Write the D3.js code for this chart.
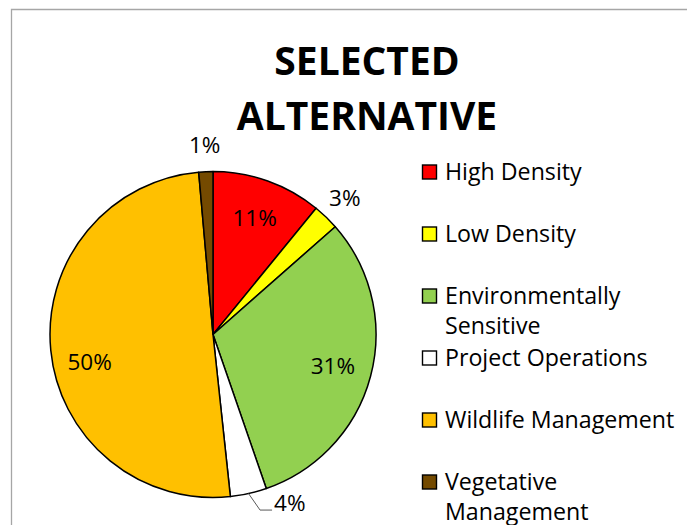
<!DOCTYPE html>
<html>
<head>
<meta charset="utf-8">
<script src="https://cdn.jsdelivr.net/npm/d3@7"></script>
<style>
  html, body { margin: 0; padding: 0; background: #fff; }
  svg { display: block; }
  text { font-family: "Open Sans", "Noto Sans", sans-serif; fill: #000; }
</style>
</head>
<body>
<svg id="chart" width="687" height="525"></svg>
<script>
// ---- data ----
const titleLines = ["SELECTED", "ALTERNATIVE"];
const categories = ["High Density", "Low Density", "Environmentally Sensitive", "Project Operations", "Wildlife Management", "Vegetative Management"];
const legendLines = [["High Density"], ["Low Density"], ["Environmentally", "Sensitive"], ["Project Operations"], ["Wildlife Management"], ["Vegetative", "Management"]];
const values = [10.9, 2.6, 31.2, 3.6, 50.3, 1.4];
const colors = ["#FF0000", "#FFFF00", "#92D050", "#FFFFFF", "#FFC000", "#744A00"];

const W = 687, H = 525;
const svg = d3.select("#chart");

// frame
svg.append("path")
  .attr("d", `M11.5,${H} L11.5,9.5 L${W},9.5`)
  .attr("fill", "none").attr("stroke", "#a6a6a6").attr("stroke-width", 1.3);

// title
svg.append("g").selectAll("text").data(titleLines).join("text")
  .attr("x", 367).attr("y", (d, i) => 75 + i * 55)
  .attr("text-anchor", "middle")
  .attr("font-weight", "bold").attr("font-size", 39)
  .text(d => d);

// pie
const cx = 213, cy = 334.5, R = 163;
const total = d3.sum(values);
const pie = d3.pie().sort(null).value(d => d)(values);
const arc = d3.arc().innerRadius(0).outerRadius(R);
const g = svg.append("g").attr("transform", `translate(${cx},${cy})`);
g.selectAll("path").data(pie).join("path")
  .attr("d", arc)
  .attr("fill", (d, i) => colors[i])
  .attr("stroke", "#000").attr("stroke-width", 1.5).attr("stroke-linejoin", "round");

const fmt = v => Math.round(v / total * 100) + "%";
const inner = d3.arc().innerRadius(124).outerRadius(124);
const outer = d3.arc().innerRadius(190).outerRadius(190);
const edge = d3.arc().innerRadius(R).outerRadius(R);
const FS = 22.5, LFS = 23.2;

pie.forEach((d, i) => {
  const label = fmt(d.value);
  if (d.value >= 5) {
    let [x, y] = inner.centroid(d);
    if (d.endAngle - d.startAngle > Math.PI * 0.9) y += 16;
    g.append("text").attr("x", x).attr("y", y).attr("dy", "0.35em")
      .attr("text-anchor", "middle").attr("font-size", FS).text(label);
  } else {
    const [x, y] = outer.centroid(d);
    if (cy + y + 10 > H) {
      const [ex, ey] = edge.centroid(d);
      const px = ex + 11.5, py = ey + 16.5;
      g.append("path").attr("d", `M${ex},${ey} L${px},${py} L${px + 12},${py}`)
        .attr("fill", "none").attr("stroke", "#595959").attr("stroke-width", 1);
      g.append("text").attr("x", px + 14).attr("y", py + 1)
        .attr("font-size", FS).text(label);
    } else {
      g.append("text").attr("x", x).attr("y", y).attr("dy", "0.35em")
        .attr("text-anchor", "middle").attr("font-size", FS).text(label);
    }
  }
});

// legend
const lg = svg.append("g");
legendLines.forEach((lines, i) => {
  const yc = 172 + i * 62;
  lg.append("rect").attr("x", 422.5).attr("y", yc - 7).attr("width", 14).attr("height", 14)
    .attr("fill", colors[i]).attr("stroke", "#000").attr("stroke-width", 1.4);
  lines.forEach((t, j) => {
    lg.append("text").attr("x", 445).attr("y", yc + 7.5 + j * 30)
      .attr("font-size", LFS).text(t);
  });
});
</script>
</body>
</html>
